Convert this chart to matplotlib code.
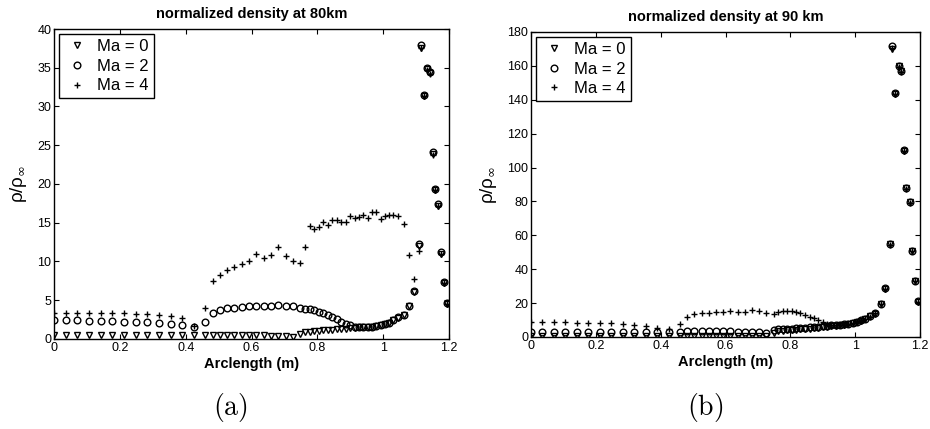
import matplotlib
matplotlib.use("Agg")
import matplotlib.pyplot as plt

plt.rcParams['font.family'] = ['Liberation Sans', 'DejaVu Sans']
plt.rcParams['mathtext.fontset'] = 'dejavusans'

# arclength grid shared by both panels (m)
arclength = [0.000, 0.035, 0.071, 0.106, 0.142, 0.177, 0.213, 0.248, 0.283, 0.319, 0.354, 0.390, 0.425,
             0.459, 0.482, 0.504, 0.527, 0.548, 0.570, 0.593, 0.615, 0.638, 0.659, 0.681, 0.704, 0.725, 0.748,
             0.763, 0.777, 0.790, 0.804, 0.818, 0.831, 0.845, 0.859, 0.872, 0.886, 0.900, 0.913, 0.926, 0.940,
             0.953, 0.966, 0.979, 0.993, 1.006, 1.019, 1.031, 1.046, 1.062,
             1.079, 1.093, 1.108, 1.115, 1.124, 1.134, 1.142, 1.150, 1.158, 1.168, 1.176, 1.185, 1.195]

# 80 km
rho80_ma0 = [0.5, 0.5, 0.5, 0.5, 0.5, 0.5, 0.5, 0.5, 0.5, 0.5, 0.5, 0.5, 0.5,
             0.5, 0.5, 0.5, 0.5, 0.5, 0.5, 0.5, 0.5, 0.5, 0.45, 0.4, 0.35, 0.3, 0.7,
             0.85, 0.95, 1.0, 1.05, 1.1, 1.15, 1.2, 1.25, 1.3, 1.35, 1.4, 1.45, 1.5, 1.5,
             1.55, 1.6, 1.7, 1.8, 1.95, 2.1, 2.4, 2.75, 3.05,
             4.2, 6.1, 12.0, 37.6, 31.3, 34.8, 34.3, 23.9, 19.2, 17.2, 11.0, 7.2, 4.5]
rho80_ma2 = [2.45, 2.4, 2.4, 2.35, 2.3, 2.3, 2.25, 2.2, 2.15, 2.05, 1.95, 1.85, 1.6,
             2.2, 3.3, 3.7, 3.95, 4.05, 4.1, 4.25, 4.3, 4.3, 4.3, 4.35, 4.3, 4.25, 3.95,
             3.9, 3.9, 3.75, 3.5, 3.3, 3.1, 2.9, 2.6, 2.25, 1.95, 1.75, 1.6, 1.5, 1.5,
             1.5, 1.55, 1.65, 1.8, 1.95, 2.1, 2.4, 2.8, 3.1,
             4.3, 6.2, 12.2, 37.9, 31.5, 35.0, 34.4, 24.1, 19.4, 17.4, 11.2, 7.3, 4.6]
rho80_ma4 = [3.3, 3.3, 3.3, 3.3, 3.3, 3.3, 3.3, 3.25, 3.2, 3.1, 2.95, 2.65, 1.7,
             4.0, 7.5, 8.3, 8.9, 9.25, 9.7, 10.0, 10.95, 10.4, 10.9, 11.9, 10.7, 10.0, 9.85,
             11.9, 14.6, 14.2, 14.5, 15.1, 14.7, 15.3, 15.35, 15.05, 15.05, 15.9, 15.55, 15.7, 15.95,
             15.65, 16.4, 16.4, 15.45, 15.9, 16.05, 16.0, 15.9, 14.8,
             10.8, 7.7, 11.4, 37.6, 31.3, 34.7, 34.2, 23.8, 19.2, 17.2, 11.0, 7.2, 4.5]

# 90 km
rho90_ma0 = [0.5, 0.5, 0.5, 0.5, 0.5, 0.5, 0.5, 0.5, 0.5, 0.5, 0.5, 0.5, 0.5,
             0.5, 0.5, 0.5, 0.5, 0.5, 0.5, 0.5, 0.5, 0.5, 0.5, 0.5, 0.4, 0.3, 2.5,
             3.5, 3.8, 4.0, 4.2, 4.4, 4.6, 4.8, 5.0, 5.2, 5.5, 5.8, 6.1, 6.4, 6.7,
             7.0, 7.3, 7.7, 8.2, 8.8, 9.6, 10.6, 12.1, 13.8,
             19.4, 28.5, 54.6, 170.0, 143.6, 159.8, 156.8, 110.0, 88.0, 79.4, 50.7, 33.0, 20.8]
rho90_ma2 = [3.2, 3.2, 3.1, 3.1, 3.1, 3.0, 3.0, 3.0, 2.9, 2.9, 2.8, 2.7, 2.7,
             3.0, 3.6, 3.6, 3.5, 3.5, 3.4, 3.4, 3.3, 3.2, 3.1, 3.0, 2.8, 2.5, 4.0,
             4.5, 4.7, 4.9, 5.0, 5.1, 5.2, 5.4, 5.6, 5.8, 6.0, 6.3, 6.5, 6.8, 7.0,
             7.2, 7.5, 7.9, 8.4, 9.0, 9.8, 10.8, 12.3, 14.0,
             19.6, 28.7, 55.0, 172.0, 144.0, 160.2, 157.2, 110.3, 88.2, 79.6, 51.0, 33.2, 21.0]
rho90_ma4 = [8.8, 8.8, 8.6, 8.6, 8.4, 8.3, 8.2, 8.0, 7.5, 7.0, 6.3, 5.5, 4.7,
             7.5, 12.0, 13.4, 14.0, 14.4, 14.5, 14.7, 15.5, 14.9, 14.9, 15.9, 15.3, 14.4, 13.4,
             14.5, 15.3, 15.5, 15.3, 14.5, 14.0, 13.0, 12.0, 11.0, 10.0, 8.7, 7.7, 7.0, 6.8,
             7.0, 7.3, 7.7, 8.2, 8.8, 9.6, 10.6, 12.0, 14.0,
             19.3, 28.5, 54.5, 170.5, 143.5, 159.5, 156.5, 109.5, 87.5, 79.0, 50.5, 33.0, 20.8]

labels = ['Ma = 0', 'Ma = 2', 'Ma = 4']
markers = ['v', 'o', '+']

fig = plt.figure(figsize=(9.3, 4.29), dpi=100)
ax1 = fig.add_axes([0.0581, 0.2098, 0.4247, 0.7226])
ax2 = fig.add_axes([0.5710, 0.2145, 0.4183, 0.7110])

panels = [
    (ax1, [rho80_ma0, rho80_ma2, rho80_ma4], 'normalized density at 80km', 40, 5),
    (ax2, [rho90_ma0, rho90_ma2, rho90_ma4], 'normalized density at 90 km', 180, 20),
]

for ax, series, title, ymax, ystep in panels:
    for vals, m, lab in zip(series, markers, labels):
        ax.plot(arclength, vals, linestyle='none', marker=m, markersize=4.8,
                markerfacecolor='none', markeredgecolor='black', markeredgewidth=1.0,
                label=lab)
    ax.set_xlim(0, 1.2)
    ax.set_ylim(0, ymax)
    ax.set_xticks([0, 0.2, 0.4, 0.6, 0.8, 1.0, 1.2])
    ax.set_xticklabels(['0', '0.2', '0.4', '0.6', '0.8', '1', '1.2'])
    ax.set_yticks(list(range(0, ymax + 1, ystep)))
    ax.tick_params(direction='in', top=True, right=True, length=3.5, width=0.8,
                   labelsize=9, pad=2)
    for sp in ax.spines.values():
        sp.set_linewidth(1.0)
    ax.set_title(title, fontsize=10.5, fontweight='bold', pad=8)
    ax.set_xlabel('Arclength (m)', fontsize=10.5, fontweight='bold', labelpad=2)
    ax.set_ylabel(r'ρ/ρ$_{\infty}$', fontsize=13.5, labelpad=6)
    leg = ax.legend(loc='upper left', fontsize=12, frameon=True, fancybox=False,
                    edgecolor='black', framealpha=1, handlelength=1.6,
                    handletextpad=0.4, labelspacing=0.28, borderpad=0.3,
                    borderaxespad=0.3)
    leg.get_frame().set_linewidth(1.0)

fig.text(0.2473, 0.051, r'$\mathrm{(a)}$', fontsize=20, math_fontfamily='cm',
         ha='center', va='center')
fig.text(0.7581, 0.051, r'$\mathrm{(b)}$', fontsize=20, math_fontfamily='cm',
         ha='center', va='center')

fig.savefig('out.png', dpi=100)
